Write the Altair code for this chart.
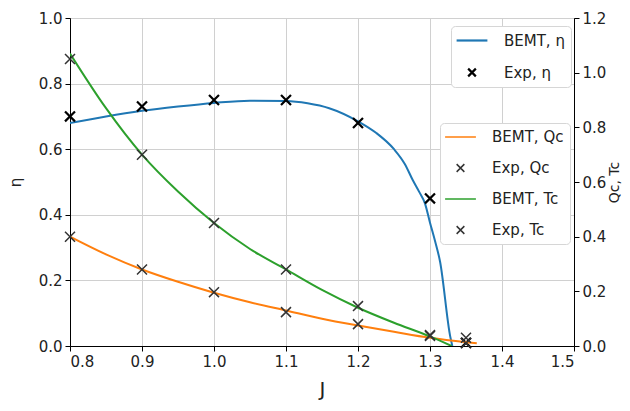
import altair as alt
import pandas as pd

# ---- data ----
J_eta = [0.80, 0.85, 0.90, 0.95, 1.00, 1.05, 1.10, 1.13, 1.16, 1.20, 1.225, 1.25,
         1.265, 1.276, 1.285, 1.293, 1.300, 1.307, 1.314, 1.328, 1.331]
eta_bemt = [0.680, 0.700, 0.717, 0.730, 0.741, 0.748, 0.747, 0.740, 0.725, 0.685, 0.650, 0.600,
            0.555, 0.506, 0.470, 0.435, 0.376, 0.320, 0.257, 0.030, 0.0]

J_q = [0.80, 0.85, 0.90, 0.95, 1.00, 1.05, 1.10, 1.15, 1.20, 1.25, 1.30, 1.35, 1.365]
qc_bemt = [0.400, 0.335, 0.280, 0.235, 0.195, 0.160, 0.130, 0.100, 0.075, 0.052, 0.030, 0.014, 0.010]

J_t = [0.80, 0.85, 0.90, 0.95, 1.00, 1.05, 1.10, 1.15, 1.20, 1.25, 1.30, 1.33]
tc_bemt = [1.070, 0.870, 0.700, 0.565, 0.450, 0.355, 0.280, 0.205, 0.140, 0.085, 0.035, 0.0]

J_exp = [0.80, 0.90, 1.00, 1.10, 1.20, 1.30, 1.35]
eta_exp = [0.70, 0.73, 0.75, 0.75, 0.68, 0.45, 0.01]
qc_exp = [0.40, 0.28, 0.197, 0.124, 0.08, 0.04, 0.01]
tc_exp = [1.05, 0.70, 0.45, 0.28, 0.146, 0.037, 0.03]

x_ticks = [0.8, 0.9, 1.0, 1.1, 1.2, 1.3, 1.4, 1.5]
y_left_ticks = [0.0, 0.2, 0.4, 0.6, 0.8, 1.0]
y_right_ticks = [0.0, 0.2, 0.4, 0.6, 0.8, 1.0, 1.2]

leg1_names = ["BEMT, η", "Exp, η"]
leg2_names = ["BEMT, Qc", "Exp, Qc", "BEMT, Tc", "Exp, Tc"]

BLUE, ORANGE, GREEN = "#1f77b4", "#ff7f0e", "#2ca02c"
FONT = "DejaVu Sans"
X_PATH = "M-0.55,-0.55L0.55,0.55M-0.55,0.55L0.55,-0.55"
LINE_PATH = "M-2.2,0L2.2,0"

# ---- tables ----
df_eta = pd.DataFrame({"J": J_eta, "v": eta_bemt})
df_q = pd.DataFrame({"J": J_q, "v": qc_bemt})
df_t = pd.DataFrame({"J": J_t, "v": tc_bemt})
df_eta_exp = pd.DataFrame({"J": J_exp, "v": eta_exp, "series": "Exp, η"})
df_qt_exp = pd.concat([
    pd.DataFrame({"J": J_exp, "v": qc_exp, "series": "Exp, Qc"}),
    pd.DataFrame({"J": J_exp, "v": tc_exp, "series": "Exp, Tc"}),
])

xscale = alt.Scale(domain=[0.8, 1.5], nice=False, zero=False)
xaxis = alt.Axis(values=x_ticks, format=".1f", title="J", titleFontSize=20,
                 titlePadding=10, grid=True)


def X():
    return alt.X("J:Q", scale=xscale, axis=xaxis)


yl_scale = alt.Scale(domain=[0, 1], nice=False, zero=False)
yl_axis = alt.Axis(values=y_left_ticks, format=".1f", title="η", titlePadding=15,
                   grid=True, orient="left")
yr_scale = alt.Scale(domain=[0, 1.2], nice=False, zero=False)
yr_axis = alt.Axis(values=y_right_ticks, format=".1f", title="Qc, Tc", titlePadding=2,
                   titleFontSize=14, grid=False, orient="right", titleAngle=270,
                   titleBaseline="top")


def YL():
    return alt.Y("v:Q", scale=yl_scale, axis=yl_axis)


def YR():
    return alt.Y("v:Q", scale=yr_scale, axis=yr_axis)


def legend(x, y, sw):
    return alt.Legend(orient="none", legendX=x, legendY=y, fillColor="white",
                      strokeColor="#d6d6d6", cornerRadius=4, padding=6,
                      symbolSize=196, symbolStrokeWidth=sw, symbolOffset=6.5,
                      labelOffset=23.5, rowPadding=15, labelFont=FONT,
                      labelFontSize=15, labelColor="#222", symbolOpacity=1)


leg1 = legend(381, 8, 2.2)
leg2 = legend(370, 105, 1.5)

eta_line = alt.Chart(df_eta).mark_line(color=BLUE, strokeWidth=2, interpolate="monotone",
                                       clip=True).encode(x=X(), y=YL())
eta_pts = alt.Chart(df_eta_exp).mark_point(filled=False, strokeWidth=2.2, size=330,
                                           opacity=1).encode(
    x=X(), y=YL(),
    color=alt.Color("series:N", title=None,
                    scale=alt.Scale(domain=leg1_names, range=[BLUE, "black"]), legend=leg1),
    shape=alt.Shape("series:N", title=None,
                    scale=alt.Scale(domain=leg1_names, range=[LINE_PATH, X_PATH]), legend=leg1),
)
left = alt.layer(eta_line, eta_pts)

q_line = alt.Chart(df_q).mark_line(color=ORANGE, strokeWidth=2, interpolate="monotone",
                                   clip=True).encode(x=X(), y=YR())
t_line = alt.Chart(df_t).mark_line(color=GREEN, strokeWidth=2, interpolate="monotone",
                                   clip=True).encode(x=X(), y=YR())
qt_pts = alt.Chart(df_qt_exp).mark_point(filled=False, strokeWidth=1.5, size=330,
                                         opacity=1).encode(
    x=X(), y=YR(),
    color=alt.Color("series:N", title=None,
                    scale=alt.Scale(domain=leg2_names,
                                    range=[ORANGE, "#333333", GREEN, "#333333"]),
                    legend=leg2),
    shape=alt.Shape("series:N", title=None,
                    scale=alt.Scale(domain=leg2_names,
                                    range=[LINE_PATH, X_PATH, LINE_PATH, X_PATH]),
                    legend=leg2),
)
right = alt.layer(q_line, t_line, qt_pts)

chart = alt.layer(left, right).resolve_scale(
    y="independent", color="independent", shape="independent"
).properties(
    width=504, height=328,
    autosize=alt.AutoSizeParams(type="none"),
    padding={"left": 62, "top": 10, "right": 48, "bottom": 56},
    background="white",
).configure_view(
    stroke="black", strokeWidth=1
).configure_axis(
    labelFont=FONT, labelFontSize=15, labelColor="#222",
    titleFont=FONT, titleFontSize=15, titleColor="#222", titleFontWeight="normal",
    domainColor="black", domainWidth=1, tickColor="black", tickSize=5, tickWidth=1,
    labelPadding=3, gridColor="#d0d0d0", gridWidth=1,
)

chart.save("out.html", embed_options={"renderer": "svg", "actions": False})
